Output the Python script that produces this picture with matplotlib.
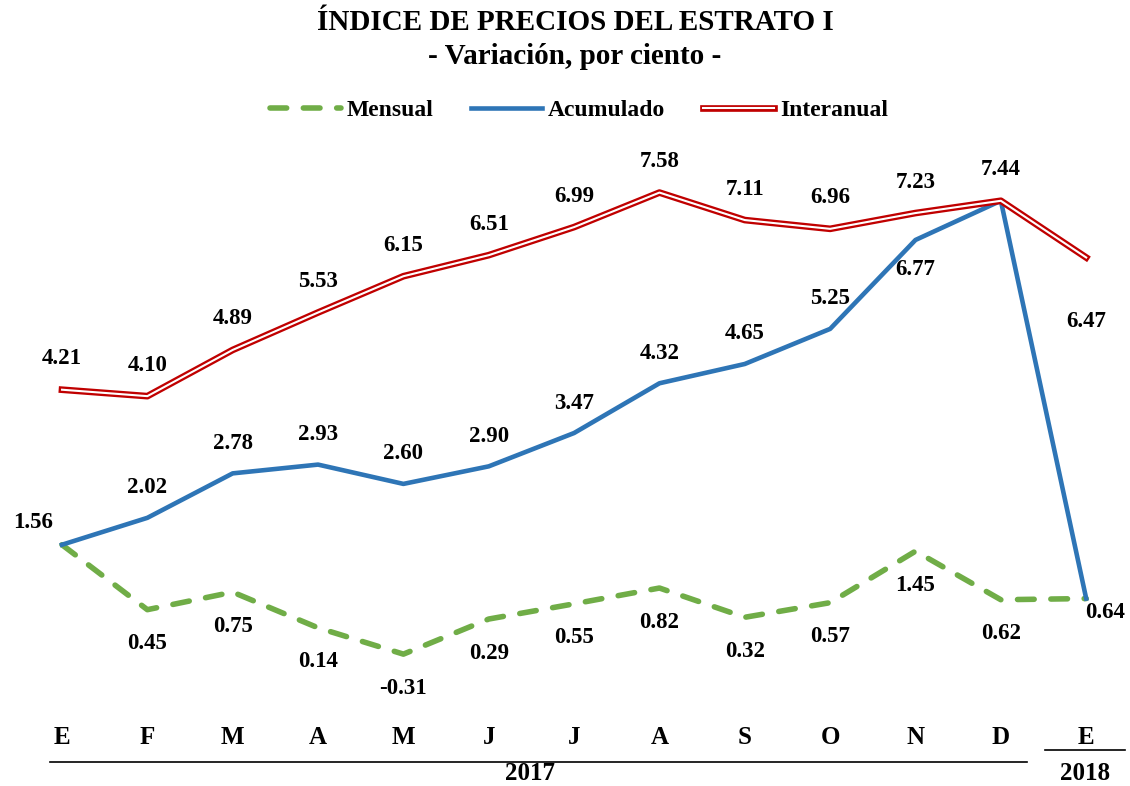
import matplotlib
matplotlib.use("Agg")
import matplotlib.pyplot as plt
import matplotlib.patheffects as pe

months = ["E", "F", "M", "A", "M", "J", "J", "A", "S", "O", "N", "D", "E"]
mensual = [1.56, 0.45, 0.75, 0.14, -0.31, 0.29, 0.55, 0.82, 0.32, 0.57, 1.45, 0.62, 0.64]
acumulado = [1.56, 2.02, 2.78, 2.93, 2.60, 2.90, 3.47, 4.32, 4.65, 5.25, 6.77, 7.44, 0.64]
interanual = [4.21, 4.10, 4.89, 5.53, 6.15, 6.51, 6.99, 7.58, 7.11, 6.96, 7.23, 7.44, 6.47]
years = ["2017", "2018"]

plt.rcParams['font.family'] = ['Liberation Serif', 'DejaVu Serif']
plt.rcParams['font.weight'] = 'bold'

W, H = 1130, 786
fig = plt.figure(figsize=(W / 100, H / 100), dpi=100)
ax = fig.add_axes([0, 0, 1, 1])
x0, dx = 62, 85.35
y0, dy = 636, 58.5
ax.set_xlim(-x0 / dx, (W - x0) / dx)
ax.set_ylim((y0 - H) / dy, y0 / dy)
ax.axis('off')

xs = list(range(len(months)))
GREEN = '#70AD47'
BLUE = '#2E75B6'
RED = '#C00000'

ax.plot(xs, mensual, color=GREEN, lw=4, linestyle=(0, (3, 3)), label='Mensual',
        solid_capstyle='round', dash_capstyle='round', zorder=3)
ax.plot(xs, acumulado, color=BLUE, lw=3.3, label='Acumulado', zorder=4)
ax.plot(xs, interanual, color='white', lw=1.5, label='Interanual', zorder=5,
        path_effects=[pe.Stroke(linewidth=4.8, foreground=RED), pe.Normal()])

fs = 16.5

def lab(i, v, ox, oy):
    ax.annotate(f"{v:.2f}", (i, v), xytext=(ox, oy), textcoords='offset pixels',
                ha='center', va='center', fontsize=fs, fontweight='bold')

# Interanual labels
for i, v in enumerate(interanual):
    if i == 12:
        lab(i, v, 0, -64)
    else:
        lab(i, v, 0, 31)

# Acumulado labels
for i, v in enumerate(acumulado):
    if i == 0:
        lab(i, v, -29, 22)
    elif i == 10:
        lab(i, v, 0, -30)
    elif i in (11, 12):
        continue
    else:
        lab(i, v, 0, 30)

# Mensual labels
for i, v in enumerate(mensual):
    if i == 0:
        continue
    if i == 12:
        lab(i, v, 19, -14)
    else:
        lab(i, v, 0, -34)

# Month labels
for i, m in enumerate(months):
    ax.text(i, (y0 - 738) / dy, m, ha='center', va='center', fontsize=18, fontweight='bold')

# Year separators
ax.plot([(50 - x0) / dx, (1027 - x0) / dx], [(y0 - 762) / dy] * 2, color='black', lw=1.2)
ax.plot([(1045 - x0) / dx, (1125 - x0) / dx], [(y0 - 750) / dy] * 2, color='black', lw=1.2)
ax.text((530 - x0) / dx, (y0 - 773) / dy, years[0], ha='center', va='center', fontsize=18, fontweight='bold')
ax.text((1085 - x0) / dx, (y0 - 774) / dy, years[1], ha='center', va='center', fontsize=18, fontweight='bold')

# Title
fig.text(575 / W, 1 - 23 / H, "ÍNDICE DE PRECIOS DEL ESTRATO I", ha='center', va='center',
         fontsize=21, fontweight='bold')
fig.text(575 / W, 1 - 56 / H, "- Variación, por ciento -", ha='center', va='center',
         fontsize=21, fontweight='bold')

leg = ax.legend(loc='center', bbox_to_anchor=(579 / W, 1 - 110 / H), bbox_transform=fig.transFigure,
                ncol=3, frameon=False, handlelength=3.0, handletextpad=0.25,
                columnspacing=1.6, prop={'weight': 'bold', 'size': 17})

fig.savefig('out.png', dpi=100)
